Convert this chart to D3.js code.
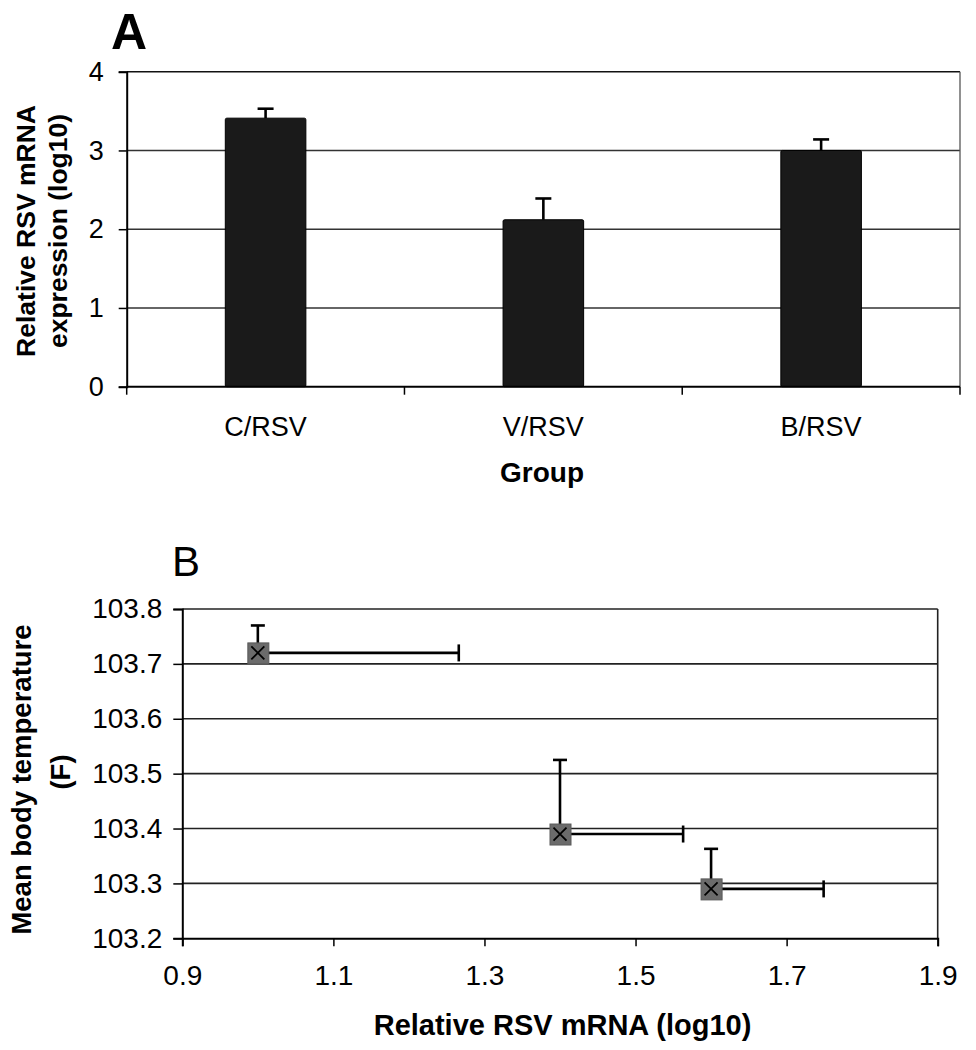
<!DOCTYPE html>
<html>
<head>
<meta charset="utf-8">
<script src="https://cdn.jsdelivr.net/npm/d3@7"></script>
<style>
  html, body { margin: 0; padding: 0; background: #fff; }
  svg { display: block; }
  text { font-family: "Liberation Sans", Arial, Helvetica, sans-serif; fill: #000; }
</style>
</head>
<body>
<svg id="chart" width="976" height="1050"></svg>
<script>
// ---- Panel A data ----
const groups = ["C/RSV", "V/RSV", "B/RSV"];
const expression = [3.41, 2.12, 3.0];
const expressionErr = [0.12, 0.27, 0.14];
const yTicksA = [0, 1, 2, 3, 4];

// ---- Panel B data ----
const mrna = [1.0, 1.4, 1.6];
const mrnaErr = [0.266, 0.163, 0.149];
const temperature = [103.72, 103.39, 103.29];
const temperatureErr = [0.05, 0.135, 0.073];
const xTicksB = [0.9, 1.1, 1.3, 1.5, 1.7, 1.9];
const yTicksB = [103.2, 103.3, 103.4, 103.5, 103.6, 103.7, 103.8];

const svg = d3.select("#chart");
svg.append("rect").attr("width", 976).attr("height", 1050).attr("fill", "#fff");

// ================= Panel A =================
const A = { left: 126.7, right: 960, top: 71.7, bottom: 386.7 };
const xA = d3.scaleBand().domain(groups).range([A.left, A.right]).padding(0);
const yA = d3.scaleLinear().domain([0, 4]).range([A.bottom, A.top]);
const gA = svg.append("g");

// gridlines
gA.append("g").selectAll("line").data(yTicksA.filter(d => d > 0)).join("line")
  .attr("x1", A.left).attr("x2", A.right)
  .attr("y1", d => yA(d)).attr("y2", d => yA(d))
  .attr("stroke", d => d === 4 ? "#111" : "#333").attr("stroke-width", 1.5);
// right border
gA.append("line").attr("x1", A.right).attr("x2", A.right)
  .attr("y1", A.top).attr("y2", A.bottom).attr("stroke", "#555").attr("stroke-width", 1.3);

// bars
const barW = xA.bandwidth() * 0.29;
gA.append("g").selectAll("rect").data(groups).join("rect")
  .attr("x", d => xA(d) + xA.bandwidth() / 2 - barW / 2)
  .attr("y", (d, i) => yA(expression[i]))
  .attr("width", barW)
  .attr("height", (d, i) => yA(0) - yA(expression[i]))
  .attr("rx", 1.5)
  .attr("fill", "#1a1a1a").attr("stroke", "#000").attr("stroke-width", 1);

// error bars (upper only)
const ebA = gA.append("g").attr("stroke", "#000").attr("stroke-width", 2.6);
groups.forEach((g, i) => {
  const cx = xA(g) + xA.bandwidth() / 2;
  ebA.append("line").attr("x1", cx).attr("x2", cx)
    .attr("y1", yA(expression[i])).attr("y2", yA(expression[i] + expressionErr[i]));
  ebA.append("line").attr("x1", cx - 8).attr("x2", cx + 8)
    .attr("y1", yA(expression[i] + expressionErr[i])).attr("y2", yA(expression[i] + expressionErr[i]));
});

// left axis
const axLA = gA.append("g").attr("transform", `translate(${A.left},0)`)
  .call(d3.axisLeft(yA).tickValues(yTicksA).tickFormat(d3.format("d")).tickSize(8).tickPadding(15));
axLA.select(".domain").attr("stroke", "#000").attr("stroke-width", 2);
axLA.selectAll(".tick line").attr("stroke", "#000").attr("stroke-width", 1.5);
axLA.selectAll("text").style("font-size", "27px").attr("fill", "#000");

// bottom axis (labels at band centres)
const axBA = gA.append("g").attr("transform", `translate(0,${A.bottom})`)
  .call(d3.axisBottom(xA).tickSize(0).tickPadding(30));
axBA.select(".domain").attr("stroke", "#000").attr("stroke-width", 2)
  .attr("d", `M${A.left},0H${A.right}`);
axBA.selectAll("text").style("font-size", "27px").attr("fill", "#000");
// boundary ticks
const bounds = groups.map(g => xA(g)).concat([A.right]);
gA.append("g").selectAll("line").data(bounds).join("line")
  .attr("x1", d => d).attr("x2", d => d)
  .attr("y1", A.bottom).attr("y2", A.bottom + 8)
  .attr("stroke", "#000").attr("stroke-width", 1.5);

// titles A
svg.append("text").attr("x", 111).attr("y", 49).text("A")
  .style("font-size", "50px").style("font-weight", "bold");
svg.append("text").attr("x", 542).attr("y", 482).attr("text-anchor", "middle")
  .text("Group").style("font-size", "28px").style("font-weight", "bold");
const ytA = svg.append("text").attr("text-anchor", "middle")
  .attr("transform", "translate(0,231) rotate(-90)")
  .style("font-size", "26.5px").style("font-weight", "bold");
ytA.append("tspan").attr("x", 0).attr("y", 35).text("Relative RSV mRNA");
ytA.append("tspan").attr("x", 0).attr("y", 67).text("expression (log10)");

// ================= Panel B =================
const B = { left: 182.3, right: 937.7, top: 609, bottom: 938.3 };
const xB = d3.scaleLinear().domain([0.9, 1.9]).range([B.left, B.right]);
const yB = d3.scaleLinear().domain([103.2, 103.8]).range([B.bottom, B.top]);
const gB = svg.append("g");

gB.append("g").selectAll("line").data(yTicksB.filter(d => d > 103.2 + 1e-9)).join("line")
  .attr("x1", B.left).attr("x2", B.right)
  .attr("y1", d => yB(d)).attr("y2", d => yB(d))
  .attr("stroke", "#222").attr("stroke-width", 1.6);
gB.append("line").attr("x1", B.right).attr("x2", B.right)
  .attr("y1", B.top).attr("y2", B.bottom).attr("stroke", "#222").attr("stroke-width", 1.6);

// axes
const axLB = gB.append("g").attr("transform", `translate(${B.left},0)`)
  .call(d3.axisLeft(yB).tickValues(yTicksB).tickFormat(d3.format(".1f")).tickSize(9).tickPadding(11));
axLB.select(".domain").attr("stroke", "#000").attr("stroke-width", 2);
axLB.selectAll(".tick line").attr("stroke", "#000").attr("stroke-width", 1.5);
axLB.selectAll("text").style("font-size", "28px").attr("fill", "#000");

const axBB = gB.append("g").attr("transform", `translate(0,${B.bottom})`)
  .call(d3.axisBottom(xB).tickValues(xTicksB).tickFormat(d3.format(".1f")).tickSize(8).tickPadding(19));
axBB.select(".domain").attr("stroke", "#000").attr("stroke-width", 2);
axBB.selectAll(".tick line").attr("stroke", "#000").attr("stroke-width", 1.5);
axBB.selectAll("text").style("font-size", "28px").attr("fill", "#000");

// error bars (positive direction only)
const ebB = gB.append("g").attr("stroke", "#000").attr("stroke-width", 2.6);
mrna.forEach((m, i) => {
  const px = xB(m), py = yB(temperature[i]);
  const ty = yB(temperature[i] + temperatureErr[i]);
  const hx = xB(m + mrnaErr[i]);
  ebB.append("line").attr("x1", px).attr("x2", px).attr("y1", py).attr("y2", ty);
  ebB.append("line").attr("x1", px - 7).attr("x2", px + 7).attr("y1", ty).attr("y2", ty);
  ebB.append("line").attr("x1", px).attr("x2", hx).attr("y1", py).attr("y2", py);
  ebB.append("line").attr("x1", hx).attr("x2", hx).attr("y1", py - 8.5).attr("y2", py + 8.5);
});

// markers: grey square + x
const mk = gB.append("g");
mrna.forEach((m, i) => {
  const px = xB(m), py = yB(temperature[i]);
  mk.append("rect").attr("x", px - 10).attr("y", py - 10).attr("width", 21).attr("height", 21)
    .attr("fill", "#6b6b6b").attr("stroke", "#5a5a5a").attr("stroke-width", 1);
  mk.append("path").attr("d", `M${px - 6.5},${py - 6.5}L${px + 6.5},${py + 6.5}M${px - 6.5},${py + 6.5}L${px + 6.5},${py - 6.5}`)
    .attr("stroke", "#000").attr("stroke-width", 1.8).attr("fill", "none");
});

// titles B
svg.append("text").attr("x", 172).attr("y", 576).text("B").style("font-size", "42px");
svg.append("text").attr("x", 562.5).attr("y", 1035).attr("text-anchor", "middle")
  .text("Relative RSV mRNA (log10)").style("font-size", "29px").style("font-weight", "bold");
svg.append("text").attr("text-anchor", "middle")
  .attr("transform", "translate(31,779.5) rotate(-90)")
  .text("Mean body temperature").style("font-size", "27.5px").style("font-weight", "bold");
svg.append("text").attr("text-anchor", "middle")
  .attr("transform", "translate(70,772) rotate(-90)")
  .text("(F)").style("font-size", "27.5px").style("font-weight", "bold");
</script>
</body>
</html>
